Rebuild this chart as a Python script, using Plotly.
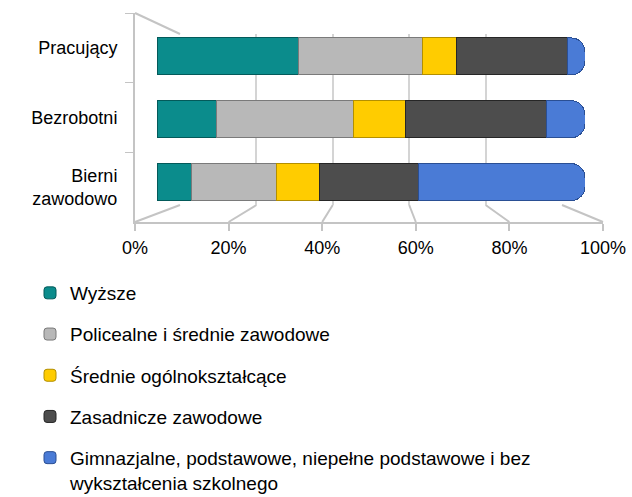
import plotly.graph_objects as go

W, H = 632, 497

categories = ["Pracujący", "Bezrobotni", "Bierni<br>zawodowo"]
series_names = [
    "Wyższe",
    "Policealne i średnie zawodowe",
    "Średnie ogólnokształcące",
    "Zasadnicze zawodowe",
    "Gimnazjalne, podstawowe, niepełne podstawowe i bez<br>wykształcenia szkolnego",
]
wyzsze = [33, 14, 8]
policealne = [29, 32, 20]
srednie_ogolne = [8, 12, 10]
zasadnicze = [26, 33, 23]
gimnazjalne = [4, 9, 39]
series_values = [wyzsze, policealne, srednie_ogolne, zasadnicze, gimnazjalne]
colors = ["#0b8c8c", "#b8b8b8", "#ffcc00", "#4d4d4d", "#4a7bd6"]
edge_colors = ["#035a5a", "#7a7a7a", "#b38f00", "#262626", "#2a4f94"]
tick_values = [0, 20, 40, 60, 80, 100]
tick_labels = ["0%", "20%", "40%", "60%", "80%", "100%"]


def px_x(v):
    return v / W


def px_y(v):
    return 1 - v / H


# domains (paper fractions)
back_x = [px_x(180), px_x(562)]
back_y = [px_y(205), px_y(34)]
bar_x = [px_x(157), px_x(585)]
bar_y = [px_y(213.5), px_y(25)]
front_x = [px_x(135), px_x(603)]
front_y = [px_y(222), px_y(13)]

fig = go.Figure()

# back wall grid subplot (x, y)
fig.add_trace(go.Scatter(x=[0, 100], y=[0, 1], mode="markers", marker=dict(opacity=0),
                         showlegend=False, hoverinfo="skip", xaxis="x", yaxis="y"))

# bars (x2, y2)
for i, (name, vals) in enumerate(zip(series_names, series_values)):
    fig.add_trace(go.Bar(
        y=categories, x=vals, name=name, orientation="h",
        marker=dict(color=colors[i], line=dict(color=edge_colors[i], width=1),
                    cornerradius=14),
        xaxis="x2", yaxis="y2", legendgroup=f"g{i}",
    ))

# front axis + left wall (x3, y3)
fig.add_trace(go.Scatter(x=[0, 100], y=[categories[0], categories[-1]], mode="markers",
                         marker=dict(opacity=0), showlegend=False, hoverinfo="skip",
                         xaxis="x3", yaxis="y3"))

shapes = []
line_col = "#c4c4c4"
for v in tick_values:
    fx = front_x[0] + v / 100 * (front_x[1] - front_x[0])
    bx = back_x[0] + v / 100 * (back_x[1] - back_x[0])
    shapes.append(dict(type="line", xref="paper", yref="paper", x0=fx, y0=front_y[0],
                       x1=bx, y1=back_y[0], line=dict(color=line_col, width=2), layer="below"))
shapes.append(dict(type="line", xref="paper", yref="paper", x0=front_x[0], y0=front_y[1],
                   x1=back_x[0], y1=back_y[1], line=dict(color=line_col, width=2), layer="below"))

font = dict(family="Liberation Sans, Arial, sans-serif", color="#000000")

fig.update_layout(
    template="none",
    width=W, height=H,
    margin=dict(l=0, r=0, t=0, b=0, autoexpand=False),
    paper_bgcolor="white", plot_bgcolor="rgba(0,0,0,0)",
    barmode="stack", bargap=0.41,
    font=dict(size=18, **font),
    shapes=shapes,
    xaxis=dict(domain=back_x, range=[0, 100], dtick=20, showgrid=True, gridcolor="#d4d4d4",
               gridwidth=2, showticklabels=False, zeroline=False, showline=False, anchor="y",
               ticks="", fixedrange=True, automargin=False),
    yaxis=dict(domain=back_y, range=[0, 1], visible=False, anchor="x", fixedrange=True,
               automargin=False),
    xaxis2=dict(domain=bar_x, range=[0, 100], visible=False, anchor="y2", fixedrange=True,
                automargin=False),
    yaxis2=dict(domain=bar_y, type="category", range=[2.5, -0.5], visible=False,
                anchor="x2", fixedrange=True, automargin=False),
    xaxis3=dict(domain=front_x, range=[0, 100], tickmode="array", tickvals=tick_values,
                ticktext=tick_labels,
                showgrid=False, zeroline=False, showline=True, linecolor=line_col, linewidth=2,
                ticks="outside", ticklen=7, tickcolor=line_col, tickwidth=2,
                ticklabelstandoff=1, anchor="y3", fixedrange=True, automargin=False,
                tickfont=dict(size=18, **font)),
    yaxis3=dict(domain=front_y, type="category", categoryarray=categories,
                categoryorder="array", range=[2.5, -0.5], showgrid=False, zeroline=False,
                showline=True, linecolor=line_col, linewidth=2, ticks="outside",
                tickson="boundaries", ticklen=8, tickcolor=line_col, tickwidth=1,
                ticklabelstandoff=12, anchor="x3", fixedrange=True, automargin=False,
                tickfont=dict(size=18, **font)),
    legend=dict(x=px_x(30), y=px_y(274), xanchor="left", yanchor="top",
                tracegroupgap=13.5, valign="top", font=dict(size=19, **font),
                bgcolor="rgba(0,0,0,0)", traceorder="grouped"),
)

fig.write_html("out.html", post_script="document.body.style.margin='0px';",
               config={"displayModeBar": False})
